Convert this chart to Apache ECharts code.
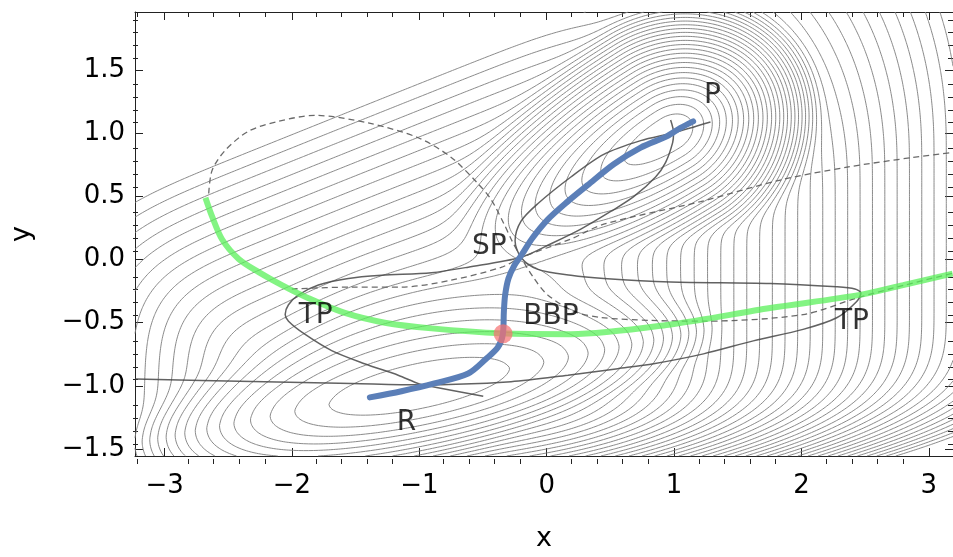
<!DOCTYPE html>
<html><head><meta charset="utf-8">
<script src="https://cdn.jsdelivr.net/npm/echarts@6.0.0/dist/echarts.min.js"></script>
<style>html,body{margin:0;padding:0;background:#fff}#c{width:953px;height:557px}</style>
</head><body><div id="c"></div>
<script>
// ---------- axes ----------
const X_RANGE = [-3.232, 3.19];
const Y_RANGE = [-1.556, 1.961];
const X_TICKS = [-3, -2, -1, 0, 1, 2, 3];
const X_MINOR = [-3.2,-2.8,-2.6,-2.4,-2.2,-1.8,-1.6,-1.4,-1.2,-0.8,-0.6,-0.4,-0.2,0.2,0.4,0.6,0.8,1.2,1.4,1.6,1.8,2.2,2.4,2.6,2.8];
const Y_TICKS = [-1.5, -1.0, -0.5, 0.0, 0.5, 1.0, 1.5];
const Y_MINOR = [-1.4,-1.3,-1.2,-1.1,-0.9,-0.8,-0.7,-0.6,-0.4,-0.3,-0.2,-0.1,0.1,0.2,0.3,0.4,0.6,0.7,0.8,0.9,1.1,1.2,1.3,1.4,1.6,1.7,1.8,1.9];

// ---------- potential model behind the contour lines (level units) ----------
const R_BOWL = [-1.0, -1.0, 0.2, 1.868, 0.232, 11.1, 30];              // cx, cy, shear, x2, x4, slope above, k below
const BASE = [10.6, 0.9, 0.45, 10.75, 0.3, 0.12, 25, 0.05, 0.15, 6, 6]; // slopeH, flatH, wH, slopeT, cT, wT, kB, cB, tiltB, pNorm, floor
const P_BOWL = [0.97, 1.0, 32, 0.6, 0.35, 0.19, 3.0, 0.5, 1.6, 0.4, -1.9]; // cx, cy, angle, su-, su+, sv, k, qu-, qu+, qv, offset
const WEDGE = [-3.232, 0.54, 0.4034];                                  // empty top-left wedge: x0, y0, slope
const LEVEL_FIRST = -1.0, LEVEL_STEP = 1.0, LEVEL_LAST = 46.0;

// ---------- curves ----------
const ntA_x = [-3.229,-2.314,-1.531,-0.999,-0.280,0.167,0.558,0.840,1.231,1.622,2.013,2.277,2.434,2.467,2.420,2.277,1.755,0.973,0.448,0.190,-0.070,-0.201,-0.248,-0.201,-0.068,0.190,0.448,0.738,0.996,1.286];
const ntA_y = [-0.947,-0.965,-0.981,-0.992,-0.967,-0.916,-0.864,-0.825,-0.747,-0.644,-0.553,-0.461,-0.332,-0.265,-0.233,-0.216,-0.189,-0.177,-0.150,-0.125,-0.078,0.016,0.148,0.304,0.444,0.654,0.833,0.942,1.004,1.089];
const ntB_x = [-0.498,-0.905,-0.999,-1.166,-1.430,-1.688,-1.899,-2.027,-2.053,-2.027,-1.948,-1.792,-1.557,-1.297,-0.905,-0.616,-0.201,0.034,0.268,0.503,0.683,0.855,0.934,0.989,0.996,0.973];
const ntB_y = [-1.082,-1.006,-0.985,-0.916,-0.825,-0.721,-0.591,-0.488,-0.436,-0.358,-0.280,-0.202,-0.150,-0.125,-0.104,-0.060,0.018,0.125,0.241,0.381,0.498,0.654,0.770,0.926,1.004,1.105];
const ge1_x = [-2.653,-2.627,-2.525,-2.340,-2.105,-1.821,-1.401,-1.009,-0.749,-0.540,-0.436,-0.334,-0.272,-0.201,-0.100,0.008,0.214,0.425,0.816,1.231,2.013,2.436,2.811,3.187];
const ge1_y = [0.524,0.706,0.864,1.017,1.095,1.142,1.082,0.965,0.809,0.602,0.475,0.280,0.148,0.016,-0.148,-0.280,-0.410,-0.459,-0.482,-0.488,-0.436,-0.304,-0.202,-0.109];
const ge2_x = [-2.001,-1.531,-1.140,-0.749,-0.358,-0.201,0.190,0.448,1.208,1.834,2.358,2.875,3.187];
const ge2_y = [-0.233,-0.218,-0.218,-0.163,-0.062,0.016,0.163,0.280,0.459,0.630,0.732,0.809,0.848];
const path_x = [-1.388,-1.140,-0.882,-0.616,-0.475,-0.383,-0.344,-0.336,-0.326,-0.300,-0.254,-0.201,-0.110,0.008,0.164,0.321,0.529,0.738,0.947,1.051,1.150];
const path_y = [-1.092,-1.043,-0.981,-0.903,-0.786,-0.695,-0.591,-0.410,-0.280,-0.150,-0.047,0.031,0.173,0.317,0.459,0.589,0.757,0.887,0.978,1.043,1.095];
const vri_x = [-2.679,-2.627,-2.549,-2.418,-2.261,-2.079,-1.870,-1.584,-1.271,-0.905,-0.358,0.190,0.973,1.755,2.459,2.798,3.187];
const vri_y = [0.490,0.342,0.161,0.005,-0.099,-0.202,-0.306,-0.423,-0.500,-0.545,-0.584,-0.591,-0.514,-0.384,-0.280,-0.202,-0.111];
const BBP = [-0.342, -0.588];
const label_names = ['P', 'SP', 'BBP', 'TP', 'TP', 'R'];
const label_x = [1.301, -0.451, 0.034, -1.813, 2.397, -1.101];
const label_y = [1.300, 0.101, -0.451, -0.444, -0.490, -1.292];

// ---------- model ----------
function ramp(u, w) { return 0.5 * (u + Math.sqrt(u * u + w * w)); }
function smin(a, b, k) { const m = Math.min(a, b); return m - k * Math.log(Math.exp(-(a - m) / k) + Math.exp(-(b - m) / k)); }
function potential(x, y) {
  const [rx, ry, sh, a2, a4, sUp, kDn] = R_BOWL;
  const ex = x - rx, ey = (y - ry) - sh * (x - rx);
  const fx = a2 * ex * ex + a4 * ex ** 4;
  const fy = ey >= 0 ? sUp * (ramp(ey - 0.09, 0.1) - ramp(-0.09, 0.1)) : kDn * ey * ey;
  const wr = fx + fy;
  const [sH, fH, wH, sT, cT, wT, kB, cB, tB, pN, Lb] = BASE;
  const dx = x - rx, dy = y - ry;
  const hl = sH * ramp(-dx - fH, wH);
  const hr = sH * ramp(dx - fH, wH);
  const t = sT * ramp(-0.375 * x + 0.927 * y + cT, wT);
  const b = kB * Math.pow(ramp(-dy + cB + tB * dx, 0.05), 2);
  const A = Math.pow(hl ** pN + t ** pN, 1 / pN);
  const base = Math.sqrt(Lb * Lb + A * A + hr * hr + b * b);
  const [px, py, ang, suM, suP, sv, k, quM, quP, qv, off] = P_BOWL;
  const th = ang * Math.PI / 180, c = Math.cos(th), s = Math.sin(th);
  const ux = x - px, uy = y - py;
  const pu = ux * c + uy * s, pv = -ux * s + uy * c;
  const au = pu / (pu < 0 ? suM : suP), av = pv / sv;
  const wp = k * (Math.sqrt(1 + au * au + av * av) - 1) + (pu < 0 ? quM : quP) * au * au + qv * av * av + off;
  return smin(smin(base, wp, 1.0), wr, 0.5);
}
const masked = (x, y) => y > WEDGE[1] + WEDGE[2] * (x - WEDGE[0]);

const NX = 330, NY = 190;
const GX = [], GY = [];
for (let i = 0; i <= NX; i++) GX.push(X_RANGE[0] + (X_RANGE[1] - X_RANGE[0]) * i / NX);
for (let j = 0; j <= NY; j++) GY.push(Y_RANGE[0] + (Y_RANGE[1] - Y_RANGE[0]) * j / NY);
const GF = new Float64Array((NX + 1) * (NY + 1));
for (let j = 0; j <= NY; j++) for (let i = 0; i <= NX; i++) GF[j * (NX + 1) + i] = potential(GX[i], GY[j]);
const F = (i, j) => GF[j * (NX + 1) + i];

function contours() {
  const out = [];
  for (let L = LEVEL_FIRST; L <= LEVEL_LAST + 1e-9; L += LEVEL_STEP) {
    const adj = new Map(), pts = new Map();
    const H = (i, j) => (j * (NX + 1) + i) * 2, V = (i, j) => (j * (NX + 1) + i) * 2 + 1;
    const pt = (id) => {
      if (pts.has(id)) return pts.get(id);
      const kk = id >> 1, i = kk % (NX + 1), j = (kk - i) / (NX + 1);
      let p;
      if ((id & 1) === 0) { const a = F(i, j), b = F(i + 1, j), t = (L - a) / (b - a); p = [GX[i] + t * (GX[i + 1] - GX[i]), GY[j]]; }
      else { const a = F(i, j), b = F(i, j + 1), t = (L - a) / (b - a); p = [GX[i], GY[j] + t * (GY[j + 1] - GY[j])]; }
      pts.set(id, p); return p;
    };
    const link = (a, b) => {
      if (!adj.has(a)) adj.set(a, []); if (!adj.has(b)) adj.set(b, []);
      adj.get(a).push(b); adj.get(b).push(a);
    };
    for (let j = 0; j < NY; j++) for (let i = 0; i < NX; i++) {
      const v0 = F(i, j), v1 = F(i + 1, j), v2 = F(i + 1, j + 1), v3 = F(i, j + 1);
      const idx = (v0 > L ? 1 : 0) | (v1 > L ? 2 : 0) | (v2 > L ? 4 : 0) | (v3 > L ? 8 : 0);
      if (idx === 0 || idx === 15) continue;
      const e0 = H(i, j), e1 = V(i + 1, j), e2 = H(i, j + 1), e3 = V(i, j);
      switch (idx) {
        case 1: case 14: link(e0, e3); break;
        case 2: case 13: link(e0, e1); break;
        case 4: case 11: link(e1, e2); break;
        case 8: case 7: link(e2, e3); break;
        case 3: case 12: link(e1, e3); break;
        case 6: case 9: link(e0, e2); break;
        case 5: case 10: {
          const cen = (v0 + v1 + v2 + v3) / 4 > L;
          if ((idx === 5) === cen) { link(e0, e1); link(e2, e3); } else { link(e0, e3); link(e1, e2); }
        }
      }
    }
    const used = new Set();
    const trace = (start) => {
      const line = [pt(start)]; used.add(start);
      let prev = -1, cur = start;
      while (true) {
        const nb = adj.get(cur).filter(n => n !== prev && !used.has(n));
        if (!nb.length) { if (adj.get(cur).includes(start) && line.length > 2) line.push(pt(start)); break; }
        prev = cur; cur = nb[0]; used.add(cur); line.push(pt(cur));
      }
      return line;
    };
    const push = (line) => {
      let seg = [];
      for (const p of line) {
        if (masked(p[0], p[1])) { if (seg.length > 1) out.push(seg); seg = []; }
        else seg.push(p);
      }
      if (seg.length > 1) out.push(seg);
    };
    for (const [id, n] of adj) if (n.length === 1 && !used.has(id)) push(trace(id));
    for (const [id] of adj) if (!used.has(id)) push(trace(id));
  }
  return out;
}

const zip = (a, b) => a.map((v, i) => [v, b[i]]);
const fmt = (v, d) => (v < 0 ? '\u2212' : '') + Math.abs(v).toFixed(d);
const FONT = 'DejaVu Sans';
const AX = { color: '#222', width: 1 };
function xAx(pos, ticks, len, showLine, labels, grid) {
  return {
    type: 'value', gridIndex: grid, position: pos, min: X_RANGE[0], max: X_RANGE[1],
    axisLine: { show: showLine, onZero: false, lineStyle: AX },
    axisTick: { show: true, inside: true, length: len, customValues: ticks, lineStyle: AX },
    axisLabel: { show: labels, customValues: ticks, formatter: v => fmt(v, 0), fontSize: 26, fontFamily: FONT, color: '#000', margin: 17 },
    splitLine: { show: false },
    name: labels ? 'x' : '', nameLocation: 'middle', nameGap: 69,
    nameTextStyle: { fontSize: 27, fontFamily: FONT, color: '#000' }
  };
}
function yAx(pos, ticks, len, showLine, labels, grid) {
  return {
    type: 'value', gridIndex: grid, position: pos, min: Y_RANGE[0], max: Y_RANGE[1],
    axisLine: { show: showLine, onZero: false, lineStyle: AX },
    axisTick: { show: true, inside: true, length: len, customValues: ticks, lineStyle: AX },
    axisLabel: { show: labels, customValues: ticks, formatter: v => fmt(v, 1), fontSize: 26, fontFamily: FONT, color: '#000', margin: 10 },
    splitLine: { show: false },
    name: labels ? 'y' : '', nameLocation: 'middle', nameGap: 100, nameRotate: 90,
    nameTextStyle: { fontSize: 27, fontFamily: FONT, color: '#000' }
  };
}
const chart = echarts.init(document.getElementById('c'), null, { renderer: 'canvas' });
const gridBox = { left: 133, top: 12, width: 820, height: 452 };
const lineSeries = (xv, yv, style, z) => ({
  type: 'line', data: zip(xv, yv), showSymbol: false, smooth: 0.3, silent: true, z,
  lineStyle: style, animation: false, clip: true
});
chart.setOption({
  animation: false, backgroundColor: '#fff',
  grid: [Object.assign({}, gridBox), Object.assign({}, gridBox)],
  xAxis: [xAx('bottom', X_TICKS, 8, true, true, 0), xAx('top', X_TICKS, 8, true, false, 0),
          xAx('bottom', X_MINOR, 5, false, false, 1), xAx('top', X_MINOR, 5, false, false, 1)],
  yAxis: [yAx('left', Y_TICKS, 8, true, true, 0), yAx('right', Y_TICKS, 8, true, false, 0),
          yAx('left', Y_MINOR, 5, false, false, 1), yAx('right', Y_MINOR, 5, false, false, 1)],
  series: [
    { type: 'lines', coordinateSystem: 'cartesian2d', polyline: true, silent: true, z: 1,
      lineStyle: { color: '#7d7d7d', width: 0.9, opacity: 1 },
      data: contours().map(c => ({ coords: c })) },
    lineSeries(ntA_x, ntA_y, { color: 'rgba(70,70,70,0.85)', width: 1.5 }, 3),
    lineSeries(ntB_x, ntB_y, { color: 'rgba(70,70,70,0.85)', width: 1.5 }, 3),
    lineSeries(ge1_x, ge1_y, { color: 'rgba(90,90,90,0.9)', width: 1.3, type: [6, 4] }, 3),
    lineSeries(ge2_x, ge2_y, { color: 'rgba(90,90,90,0.9)', width: 1.3, type: [6, 4] }, 3),
    lineSeries(vri_x, vri_y, { color: 'rgba(90,240,90,0.75)', width: 6 }, 4),
    lineSeries(path_x, path_y, { color: '#5b7fb8', width: 6, cap: 'round' }, 5),
    { type: 'scatter', data: [BBP], symbolSize: 19, silent: true, z: 6, itemStyle: { color: 'rgba(245,115,115,0.9)' } },
    { type: 'scatter', data: label_x.map((x, i) => ({ value: [x, label_y[i]], name: label_names[i] })),
      symbolSize: 0, silent: true, z: 7,
      label: { show: true, position: 'inside', formatter: p => p.name, fontSize: 28, fontFamily: FONT, color: '#000' } }
  ]
});
</script></body></html>
